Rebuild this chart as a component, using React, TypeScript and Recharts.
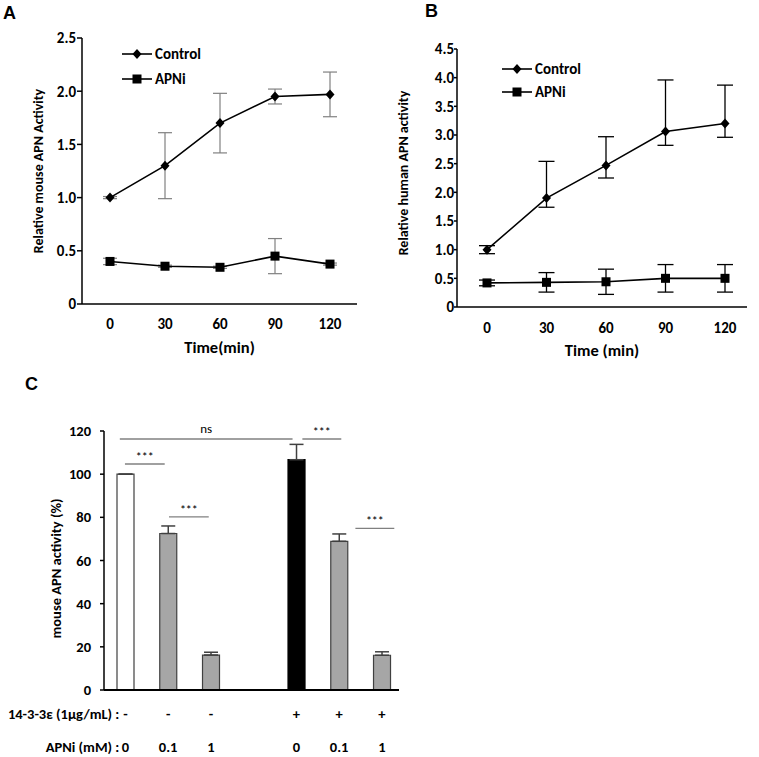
import {
  LineChart,
  Line,
  BarChart,
  Bar,
  Cell,
  XAxis,
  YAxis,
  ErrorBar,
  ReferenceLine,
  Legend,
} from 'recharts';

const FONT = 'Carlito, "Liberation Sans", Arial, sans-serif';

// panel A / B: time course
const timePoints = ['0', '30', '60', '90', '120'];
const mouseControl = [1.0, 1.3, 1.7, 1.95, 1.97];
const mouseControlErr = [0.01, 0.31, 0.28, 0.07, 0.21];
const mouseApni = [0.4, 0.355, 0.345, 0.45, 0.375];
const mouseApniErr = [0.03, 0.01, 0.01, 0.165, 0.01];

const humanControl = [1.0, 1.9, 2.47, 3.06, 3.2];
const humanControlErrLow = [0.07, 0.16, 0.22, 0.24, 0.24];
const humanControlErrHigh = [0.07, 0.64, 0.5, 0.9, 0.67];
const humanApni = [0.42, 0.43, 0.44, 0.5, 0.5];
const humanApniErr = [0.05, 0.17, 0.22, 0.24, 0.24];

const mouseTicks = [0, 0.5, 1, 1.5, 2, 2.5];
const humanTicks = [0, 0.5, 1, 1.5, 2, 2.5, 3, 3.5, 4, 4.5];

// panel C: bars (slot 4 is left empty)
const barSlots = [1, 2, 3, 5, 6, 7];
const barValues = [100, 72.5, 16.2, 106.7, 68.9, 16.1];
const barErr = [0, 3.5, 1.3, 7.1, 3.4, 1.6];
const barFills = ['#ffffff', '#a6a6a6', '#a6a6a6', '#000000', '#a6a6a6', '#a6a6a6'];
const proteinRow = ['-', '-', '-', '+', '+', '+'];
const apniRow = ['0', '0.1', '1', '0', '0.1', '1'];
const percentTicks = [0, 20, 40, 60, 80, 100, 120];

// significance brackets
const sigFrom = [0.87, 5.14, 0.99, 2.02, 6.38];
const sigTo = [4.91, 6.05, 1.92, 2.95, 7.29];
const sigLevel = [116.3, 116.3, 104.7, 80.2, 74.9];
const sigText = ['ns', '***', '***', '***', '***'];

const mouseData = timePoints.map((t, i) => ({
  time: t,
  control: mouseControl[i],
  controlErr: mouseControlErr[i],
  apni: mouseApni[i],
  apniErr: mouseApniErr[i],
}));

const humanData = timePoints.map((t, i) => ({
  time: t,
  control: humanControl[i],
  controlErr: [humanControlErrLow[i], humanControlErrHigh[i]],
  apni: humanApni[i],
  apniErr: humanApniErr[i],
}));

const barData = barSlots.map((s, i) => ({
  slot: s,
  value: barValues[i],
  err: [0, barErr[i]],
}));

const fmt = (v: number) => (v === 0 ? '0' : v.toFixed(1));

const Diamond = (props: any) => {
  const { cx, cy, index } = props;
  if (cx == null || cy == null) return <g key={index} />;
  return (
    <polygon
      key={index}
      points={`${cx},${cy - 5} ${cx + 4.5},${cy} ${cx},${cy + 5} ${cx - 4.5},${cy}`}
      fill="#000"
    />
  );
};

const Square = (props: any) => {
  const { cx, cy, index } = props;
  if (cx == null || cy == null) return <g key={index} />;
  return <rect key={index} x={cx - 4.5} y={cy - 4.5} width={9} height={9} fill="#000" />;
};

const yTitle = (text: string, x: number, dy: number, size = 14) => (props: any) => {
  const vb = props.viewBox;
  const cy = vb.y + vb.height / 2 + dy;
  return (
    <text
      x={x}
      y={cy}
      transform={`rotate(-90, ${x}, ${cy})`}
      textAnchor="middle"
      dominantBaseline="central"
      fontFamily={FONT}
      fontWeight={700}
      fontSize={size}
      fill="#000"
    >
      {text}
    </text>
  );
};

const xTitle = (text: string, dy: number) => (props: any) => {
  const vb = props.viewBox;
  return (
    <text
      x={vb.x + vb.width / 2}
      y={vb.y + dy}
      textAnchor="middle"
      dominantBaseline="central"
      fontFamily={FONT}
      fontWeight={700}
      fontSize={16.5}
      fill="#000"
    >
      {text}
    </text>
  );
};

const LegendBox = ({ gap }: { gap: number }) => (
  <div style={{ fontFamily: FONT, fontWeight: 700, fontSize: 15, color: '#000' }}>
    {['Control', 'APNi'].map((name, i) => (
      <div key={name} style={{ display: 'flex', alignItems: 'center', height: gap }}>
        <svg width={32} height={12}>
          <line x1={0} y1={6} x2={30} y2={6} stroke="#000" strokeWidth={1.6} />
          {i === 0 ? (
            <polygon points="15,1 19.5,6 15,11 10.5,6" fill="#000" />
          ) : (
            <rect x={10.5} y={1.5} width={9} height={9} fill="#000" />
          )}
        </svg>
        <span style={{ marginLeft: 1 }}>{name}</span>
      </div>
    ))}
  </div>
);

const tickStyle = { fill: '#000', fontSize: 15, fontWeight: 700, fontFamily: FONT };
const axisStyle = { stroke: '#000', strokeWidth: 1.5 };

const ConditionTick = (props: any) => {
  const { x, y, payload } = props;
  const i = barSlots.indexOf(payload.value);
  const common = {
    fontFamily: FONT,
    fontWeight: 700,
    fontSize: 14.5,
    fill: '#000',
    dominantBaseline: 'central' as const,
  };
  return (
    <g>
      <text x={x} y={y + 24} textAnchor="middle" {...common}>
        {proteinRow[i]}
      </text>
      <text x={x} y={y + 57} textAnchor="middle" {...common}>
        {apniRow[i]}
      </text>
      {i === 0 && (
        <>
          <text x={x - 6} y={y + 24} textAnchor="end" {...common}>
            14-3-3ε (1μg/mL) :
          </text>
          <text x={x - 6} y={y + 57} textAnchor="end" {...common}>
            APNi (mM) :
          </text>
        </>
      )}
    </g>
  );
};

const letterStyle = (left: number, top: number) => ({
  position: 'absolute' as const,
  left,
  top,
  fontFamily: '"Liberation Sans", Arial, sans-serif',
  fontWeight: 700,
  fontSize: 18,
  lineHeight: 1,
});

export default function App() {
  return (
    <div
      style={{
        position: 'absolute',
        left: 0,
        top: 0,
        width: 759,
        height: 757,
        background: '#fff',
        overflow: 'hidden',
      }}
    >
      <div style={letterStyle(3, 4)}>A</div>
      <div style={letterStyle(425, 2)}>B</div>
      <div style={letterStyle(25, 375)}>C</div>

      <div style={{ position: 'absolute', left: 0, top: 0 }}>
        <LineChart
          width={380}
          height={370}
          data={mouseData}
          margin={{ top: 38, right: 23, left: 30, bottom: 16 }}
        >
          <XAxis
            dataKey="time"
            padding={{ left: 28, right: 27 }}
            axisLine={axisStyle}
            tickLine={false}
            tick={tickStyle}
            tickMargin={8}
            height={50}
            label={{ content: xTitle('Time(min)', 43) }}
          />
          <YAxis
            domain={[0, 2.5]}
            ticks={mouseTicks}
            tickFormatter={fmt}
            width={52}
            axisLine={axisStyle}
            tickLine={axisStyle}
            tickSize={5}
            tickMargin={1}
            tick={tickStyle}
            label={{ content: yTitle('Relative mouse APN Activity', 38, 0) }}
          />
          <Legend
            layout="vertical"
            align="center"
            verticalAlign="middle"
            wrapperStyle={{ left: 122, top: 41, width: 'auto' }}
            content={() => <LegendBox gap={25} />}
          />
          <Line
            dataKey="control"
            stroke="#000"
            strokeWidth={1.6}
            dot={Diamond}
            activeDot={false}
            isAnimationActive={false}
          >
            <ErrorBar dataKey="controlErr" width={7} stroke="#808080" strokeWidth={1.2} />
          </Line>
          <Line
            dataKey="apni"
            stroke="#000"
            strokeWidth={1.6}
            dot={Square}
            activeDot={false}
            isAnimationActive={false}
          >
            <ErrorBar dataKey="apniErr" width={7} stroke="#808080" strokeWidth={1.2} />
          </Line>
        </LineChart>
      </div>

      <div style={{ position: 'absolute', left: 380, top: 0 }}>
        <LineChart
          width={379}
          height={370}
          data={humanData}
          margin={{ top: 49, right: 12, left: 35, bottom: 13 }}
        >
          <XAxis
            dataKey="time"
            padding={{ left: 30, right: 22 }}
            axisLine={axisStyle}
            tickLine={false}
            tick={tickStyle}
            tickMargin={9}
            height={50}
            label={{ content: xTitle('Time (min)', 43) }}
          />
          <YAxis
            domain={[0, 4.5]}
            ticks={humanTicks}
            tickFormatter={fmt}
            width={42}
            axisLine={axisStyle}
            tickLine={axisStyle}
            tickSize={3}
            tickMargin={0}
            tick={tickStyle}
            label={{ content: yTitle('Relative  human  APN activity', 23, -5) }}
          />
          <Legend
            layout="vertical"
            align="center"
            verticalAlign="middle"
            wrapperStyle={{ left: 122, top: 57, width: 'auto' }}
            content={() => <LegendBox gap={23} />}
          />
          <Line
            dataKey="control"
            stroke="#000"
            strokeWidth={1.6}
            dot={Diamond}
            activeDot={false}
            isAnimationActive={false}
          >
            <ErrorBar dataKey="controlErr" width={8} stroke="#000" strokeWidth={1.3} />
          </Line>
          <Line
            dataKey="apni"
            stroke="#000"
            strokeWidth={1.6}
            dot={Square}
            activeDot={false}
            isAnimationActive={false}
          >
            <ErrorBar dataKey="apniErr" width={8} stroke="#000" strokeWidth={1.3} />
          </Line>
        </LineChart>
      </div>

      <div style={{ position: 'absolute', left: 0, top: 380 }}>
        <BarChart
          width={420}
          height={377}
          data={barData}
          barSize={17}
          margin={{ top: 51, right: 21, left: 20, bottom: 0 }}
        >
          <XAxis
            type="number"
            dataKey="slot"
            domain={[0.5, 7.4]}
            ticks={barSlots}
            axisLine={{ stroke: '#000', strokeWidth: 2 }}
            tickLine={false}
            tickSize={0}
            tickMargin={0}
            tick={ConditionTick}
            height={67}
          />
          <YAxis
            domain={[0, 120]}
            ticks={percentTicks}
            width={84}
            axisLine={axisStyle}
            tickLine={axisStyle}
            tickSize={4}
            tickMargin={9}
            tick={{ ...tickStyle, fontSize: 14.5 }}
            label={{ content: yTitle('mouse APN activity (%)', 56, 8, 14.5) }}
          />
          <Bar dataKey="value" stroke="#404040" strokeWidth={1.2} isAnimationActive={false}>
            {barData.map((d, i) => (
              <Cell
                key={d.slot}
                fill={barFills[i]}
                stroke={barFills[i] === '#000000' ? '#000' : '#404040'}
              />
            ))}
            <ErrorBar dataKey="err" width={7} stroke="#404040" strokeWidth={1.5} />
          </Bar>
          {sigText.map((t, i) => (
            <ReferenceLine
              key={i}
              segment={[
                { x: sigFrom[i], y: sigLevel[i] },
                { x: sigTo[i], y: sigLevel[i] },
              ]}
              stroke="#808080"
              strokeWidth={1.3}
              ifOverflow="visible"
              label={{
                value: t,
                position: 'top',
                offset: t === 'ns' ? 6 : 3,
                fill: '#000',
                fontSize: t === 'ns' ? 13 : 12,
                fontFamily: FONT,
              }}
            />
          ))}
        </BarChart>
      </div>
    </div>
  );
}
